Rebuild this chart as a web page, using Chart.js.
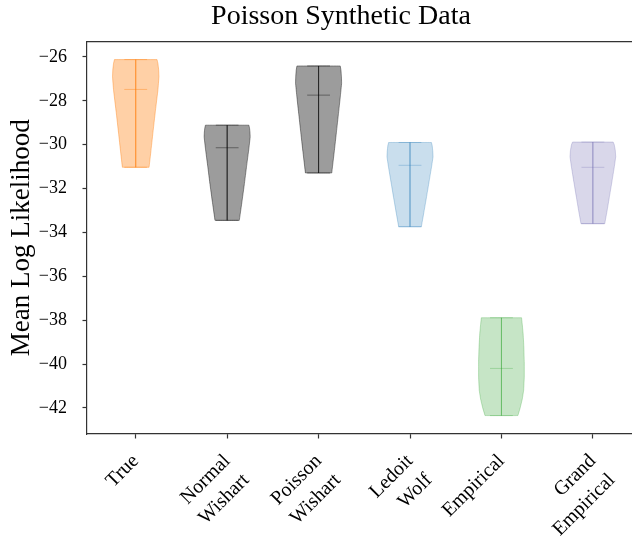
<!DOCTYPE html>
<html>
<head>
<meta charset="utf-8">
<title>Poisson Synthetic Data</title>
<script src="https://cdn.jsdelivr.net/npm/chart.js@4/dist/chart.umd.min.js"></script>
<style>
  html, body { margin: 0; padding: 0; background: #fff; }
</style>
</head>
<body>
<canvas id="violinChart" width="632" height="539"></canvas>
<script>
// category labels (multi-line, like the original tick labels)
const categories = [
  ["True"],
  ["Normal", "Wishart"],
  ["Poisson", "Wishart"],
  ["Ledoit", "Wolf"],
  ["Empirical"],
  ["Grand", "Empirical"],
];
const yTicks = [-42, -40, -38, -36, -34, -32, -30, -28, -26];

// violin outlines: log-likelihood levels (top -> bottom) and half widths at each level
const trueLevels = [-26.12, -26.3, -26.6, -26.9, -27.5, -28.5, -29.5, -30.3, -31.03];
const trueWidths = [0.233, 0.243, 0.251, 0.254, 0.243, 0.214, 0.187, 0.166, 0.146];

const normalWishartLevels = [-29.11, -29.25, -29.45, -29.65, -30.2, -31.0, -31.8, -32.6, -33.45];
const normalWishartWidths = [0.238, 0.245, 0.25, 0.252, 0.237, 0.212, 0.188, 0.162, 0.133];

const poissonWishartLevels = [-26.41, -26.6, -26.9, -27.2, -27.8, -28.6, -29.4, -30.3, -31.29];
const poissonWishartWidths = [0.237, 0.245, 0.25, 0.252, 0.238, 0.217, 0.196, 0.172, 0.144];

const ledoitWolfLevels = [-29.9, -30.05, -30.3, -30.55, -31.0, -31.7, -32.4, -33.1, -33.74];
const ledoitWolfWidths = [0.234, 0.243, 0.249, 0.252, 0.236, 0.208, 0.18, 0.151, 0.124];

const empiricalLevels = [-37.89, -38.2, -38.6, -39.2, -39.9, -40.6, -41.2, -41.6, -42.0, -42.35];
const empiricalWidths = [0.22, 0.228, 0.237, 0.245, 0.25, 0.25, 0.243, 0.228, 0.205, 0.18];

const grandEmpiricalLevels = [-29.88, -30.0, -30.25, -30.55, -31.0, -31.7, -32.4, -33.0, -33.6];
const grandEmpiricalWidths = [0.222, 0.234, 0.245, 0.25, 0.235, 0.208, 0.18, 0.156, 0.13];

const medians = [-27.48, -30.14, -27.74, -30.94, -40.2, -31.03];

// styles
const bodyColors = [
  "rgba(255, 127, 14, 0.37)",
  "rgba(0, 0, 0, 0.39)",
  "rgba(0, 0, 0, 0.39)",
  "rgba(31, 119, 180, 0.24)",
  "rgba(44, 160, 44, 0.27)",
  "rgba(117, 112, 179, 0.28)",
];
const lineColors = [
  "rgba(255, 127, 14, 0.4)",
  "rgba(0, 0, 0, 0.4)",
  "rgba(0, 0, 0, 0.4)",
  "rgba(31, 119, 180, 0.28)",
  "rgba(44, 160, 44, 0.28)",
  "rgba(117, 112, 179, 0.3)",
];
const CAP_HALF = 0.125;
const AXIS_COLOR = "#333";

const bodies = [
  [trueLevels, trueWidths],
  [normalWishartLevels, normalWishartWidths],
  [poissonWishartLevels, poissonWishartWidths],
  [ledoitWolfLevels, ledoitWolfWidths],
  [empiricalLevels, empiricalWidths],
  [grandEmpiricalLevels, grandEmpiricalWidths],
];

function segment(points, color) {
  return {
    data: points,
    borderColor: color,
    borderWidth: 1,
    pointRadius: 0,
    fill: false,
  };
}

const datasets = [];
bodies.forEach(([levels, widths], i) => {
  const top = levels[0];
  const bottom = levels[levels.length - 1];

  // closed outline: down the left side, back up the right side
  const left = levels.map((y, k) => ({ x: i - widths[k], y }));
  const right = levels.map((y, k) => ({ x: i + widths[k], y })).reverse();
  datasets.push({
    data: [...left, ...right, left[0]],
    borderColor: lineColors[i],
    borderWidth: 1,
    pointRadius: 0,
    // tiny tension keeps chart.js off its x-decimating fast path
    tension: 0.001,
    fill: "shape",
    backgroundColor: bodyColors[i],
  });

  // extrema bar, caps and median
  datasets.push(segment([{ x: i, y: top }, { x: i, y: bottom }], lineColors[i]));
  datasets.push(segment([{ x: i - CAP_HALF, y: top }, { x: i + CAP_HALF, y: top }], lineColors[i]));
  datasets.push(segment([{ x: i - CAP_HALF, y: bottom }, { x: i + CAP_HALF, y: bottom }], lineColors[i]));
  datasets.push(segment([{ x: i - CAP_HALF, y: medians[i] }, { x: i + CAP_HALF, y: medians[i] }], lineColors[i]));
});

Chart.defaults.font.family = "'Liberation Serif', 'Times New Roman', serif";
Chart.defaults.color = "#000";

const ctx = document.getElementById("violinChart").getContext("2d");

const violinChart = new Chart(ctx, {
  type: "line",
  data: { datasets },
  options: {
    responsive: false,
    animation: false,
    events: [],
    indexAxis: "y",
    // title is centred on the original (wider) axes, which run off the right edge
    layout: { padding: { left: 0, right: -50, top: 0, bottom: 0 } },
    plugins: {
      legend: { display: false },
      tooltip: { enabled: false },
      title: {
        display: true,
        text: "Poisson Synthetic Data",
        font: { size: 28, weight: "normal" },
        color: "#000",
        padding: { top: 0, bottom: 8 },
      },
    },
    scales: {
      x: {
        type: "linear",
        position: "bottom",
        min: -0.533,
        max: 5.428,
        afterBuildTicks: (axis) => {
          axis.ticks = categories.map((_, i) => ({ value: i }));
        },
        afterFit: (axis) => {
          axis.height = 105;
          axis.paddingLeft = 0;
          axis.paddingRight = 0;
        },
        ticks: {
          autoSkip: false,
          minRotation: 45,
          maxRotation: 45,
          padding: 10,
          font: { size: 20, lineHeight: 1.35 },
          callback: (v) => categories[v],
        },
        grid: {
          display: true,
          drawOnChartArea: false,
          tickLength: 4.5,
          tickColor: AXIS_COLOR,
          tickWidth: 1.2,
        },
        border: { display: true, color: AXIS_COLOR, width: 1.2 },
      },
      xTop: {
        type: "linear",
        position: "top",
        min: -0.533,
        max: 5.428,
        afterFit: (axis) => { axis.height = 0; },
        ticks: { display: false },
        grid: { display: false },
        border: { display: true, color: AXIS_COLOR, width: 1.2 },
      },
      y: {
        type: "linear",
        min: -43.19,
        max: -25.3,
        afterBuildTicks: (axis) => {
          axis.ticks = yTicks.map((v) => ({ value: v }));
        },
        afterFit: (axis) => { axis.width = 87; },
        ticks: {
          padding: 15.5,
          font: { size: 18 },
          callback: (v) => (v < 0 ? "\u2212" + Math.abs(v) : String(v)),
        },
        grid: {
          display: true,
          drawOnChartArea: false,
          tickLength: 4.5,
          tickColor: AXIS_COLOR,
          tickWidth: 1.2,
        },
        border: { display: true, color: AXIS_COLOR, width: 1.2 },
        title: {
          display: true,
          text: "Mean Log Likelihood",
          font: { size: 27, weight: "normal" },
          color: "#000",
          padding: { top: 6, bottom: 0 },
        },
      },
    },
  },
});
</script>
</body>
</html>
